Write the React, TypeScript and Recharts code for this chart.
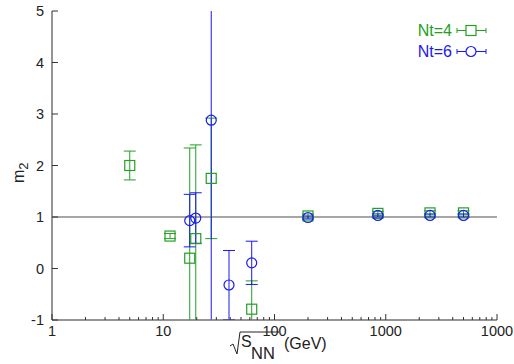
import {
  ComposedChart,
  Customized,
  ErrorBar,
  ReferenceLine,
  Scatter,
  XAxis,
  YAxis,
} from 'recharts';

// sqrt(s_NN) in GeV, m2 value, symmetric error
const nt4X = [5.0, 11.5, 17.3, 19.6, 27, 62.4, 200, 850, 2500, 5000];
const nt4Y = [2.0, 0.63, 0.2, 0.58, 1.75, -0.79, 1.02, 1.07, 1.08, 1.08];
const nt4Err = [0.28, 0.05, 2.14, 1.82, 1.17, 0.55, 0.04, 0.04, 0.04, 0.04];

const nt6X = [17.3, 19.6, 27, 39, 62.4, 200, 850, 2500, 5000];
const nt6Y = [0.93, 0.98, 2.88, -0.32, 0.11, 0.99, 1.03, 1.03, 1.03];
const nt6Err = [0.51, 0.49, 4.0, 0.67, 0.42, 0.03, 0.03, 0.03, 0.03];

const decades = [1, 10, 100, 1000, 10000];
const decadeLabels = ['1', '10', '100', '1000', '1000'];
const minorSteps = [2, 3, 4, 5, 6, 7, 8, 9];
const yTicks = [-1, 0, 1, 2, 3, 4, 5];

const GREEN = '#22a022';
const BLUE = '#1a1aee';
const FONT = '"Liberation Sans", Arial, sans-serif';

const xTicks = [
  ...decades,
  ...decades.slice(0, 4).flatMap((d) => minorSteps.map((m) => m * d)),
].sort((a, b) => a - b);

const nt4 = nt4X.map((x, i) => ({ x, y: nt4Y[i], err: nt4Err[i] }));
const nt6 = nt6X.map((x, i) => ({ x, y: nt6Y[i], err: nt6Err[i] }));

const isDecade = (v: number) => decades.includes(v);

function BottomTick(props: any) {
  const { x, y, payload } = props;
  const major = isDecade(payload.value);
  const label = decadeLabels[decades.indexOf(payload.value)];
  return (
    <g>
      <line x1={x} x2={x} y1={y} y2={y - (major ? 6 : 3)} stroke="#333" />
      {major && (
        <text x={x} y={y + 16} textAnchor="middle" fontSize={14.5} fill="#222" fontFamily={FONT}>
          {label}
        </text>
      )}
    </g>
  );
}

function TopTick(props: any) {
  const { x, y, payload } = props;
  const major = isDecade(payload.value);
  return <line x1={x} x2={x} y1={y} y2={y + (major ? 6 : 3)} stroke="#333" />;
}

function LeftTick(props: any) {
  const { x, y, payload } = props;
  return (
    <g>
      <line x1={x} x2={x + 6} y1={y} y2={y} stroke="#333" />
      <text x={x - 8} y={y + 5} textAnchor="end" fontSize={14.5} fill="#222" fontFamily={FONT}>
        {payload.value}
      </text>
    </g>
  );
}

function RightTick(props: any) {
  const { x, y } = props;
  return <line x1={x} x2={x - 6} y1={y} y2={y} stroke="#333" />;
}

const Square = (p: any) => (
  <rect x={p.cx - 5} y={p.cy - 5} width={10} height={10} fill="none" stroke={GREEN} strokeWidth={1.2} />
);
const Circle = (p: any) => (
  <circle cx={p.cx} cy={p.cy} r={5} fill="none" stroke={BLUE} strokeWidth={1.2} />
);

function Labels() {
  return (
    <g fontFamily={FONT}>
      <defs>
        <clipPath id="plotClip">
          <rect x={52} y={11} width={445} height={309} />
        </clipPath>
      </defs>
      {/* x axis title */}
      <polyline
        points="230,346 233,344 237,354 240,332 279,332"
        fill="none"
        stroke="#222"
        strokeWidth={1}
      />
      <text x={241} y={347} fontSize={16} fill="#222">
        S
      </text>
      <text x={251} y={359} fontSize={16.5} fill="#222">
        NN
      </text>
      <text x={284} y={349} fontSize={16} fill="#222">
        (GeV)
      </text>
      {/* y axis title */}
      <g transform="translate(24,183) rotate(-90)">
        <text x={0} y={0} fontSize={16} fill="#222">
          m
          <tspan dy={4} fontSize={13}>
            2
          </tspan>
        </text>
      </g>
      {/* legend */}
      <text x={452} y={36} textAnchor="end" fontSize={16} fill={GREEN}>
        Nt=4
      </text>
      <line x1={457} x2={486} y1={30.5} y2={30.5} stroke={GREEN} />
      <line x1={457} x2={457} y1={28} y2={33} stroke={GREEN} />
      <line x1={486} x2={486} y1={28} y2={33} stroke={GREEN} />
      <rect x={466} y={25.5} width={10} height={10} fill="#fff" stroke={GREEN} strokeWidth={1.2} />
      <text x={452} y={57} textAnchor="end" fontSize={16} fill={BLUE}>
        Nt=6
      </text>
      <line x1={457} x2={486} y1={51.5} y2={51.5} stroke={BLUE} />
      <line x1={457} x2={457} y1={49} y2={54} stroke={BLUE} />
      <line x1={486} x2={486} y1={49} y2={54} stroke={BLUE} />
      <circle cx={471} cy={51.5} r={5} fill="#fff" stroke={BLUE} strokeWidth={1.2} />
    </g>
  );
}

export default function App() {
  return (
    <div style={{ position: 'fixed', left: 0, top: 0, background: '#fff' }}>
      <style>{`.recharts-errorBars, .recharts-errorBar, .recharts-scatter { clip-path: url(#plotClip); }`}</style>
      <ComposedChart width={514} height={364} margin={{ top: 11, right: 17, bottom: 0, left: 8 }}>
        <XAxis
          xAxisId="b"
          dataKey="x"
          type="number"
          scale="log"
          domain={[1, 10000]}
          allowDataOverflow
          ticks={xTicks}
          interval={0}
          tick={BottomTick}
          tickSize={0}
          tickMargin={0}
          tickLine={false}
          height={44}
          axisLine={{ stroke: '#707070', strokeWidth: 1.5 }}
        />
        <XAxis
          xAxisId="t"
          orientation="top"
          dataKey="x"
          type="number"
          scale="log"
          domain={[1, 10000]}
          allowDataOverflow
          ticks={xTicks}
          interval={0}
          tick={TopTick}
          tickSize={0}
          tickMargin={0}
          tickLine={false}
          height={0}
          axisLine={{ stroke: '#222' }}
        />
        <YAxis
          yAxisId="l"
          dataKey="y"
          type="number"
          domain={[-1, 5]}
          allowDataOverflow
          ticks={yTicks}
          interval={0}
          tick={LeftTick}
          tickSize={0}
          tickMargin={0}
          tickLine={false}
          width={44}
          axisLine={{ stroke: '#707070', strokeWidth: 1.5 }}
        />
        <YAxis
          yAxisId="r"
          orientation="right"
          dataKey="y"
          type="number"
          domain={[-1, 5]}
          allowDataOverflow
          ticks={yTicks}
          interval={0}
          tick={RightTick}
          tickSize={0}
          tickMargin={0}
          tickLine={false}
          width={0}
          axisLine={{ stroke: '#222' }}
        />
        <ReferenceLine xAxisId="b" yAxisId="l" y={1} stroke="#888" strokeWidth={1.5} />
        <Scatter
          xAxisId="b"
          yAxisId="l"
          data={nt4}
          shape={Square}
          isAnimationActive={false}
        >
          <ErrorBar dataKey="err" direction="y" width={6} stroke={GREEN} strokeWidth={1} isAnimationActive={false} />
        </Scatter>
        <Scatter
          xAxisId="b"
          yAxisId="l"
          data={nt6}
          shape={Circle}
          isAnimationActive={false}
        >
          <ErrorBar dataKey="err" direction="y" width={6} stroke={BLUE} strokeWidth={1} isAnimationActive={false} />
        </Scatter>
        <Customized component={Labels} />
      </ComposedChart>
    </div>
  );
}
